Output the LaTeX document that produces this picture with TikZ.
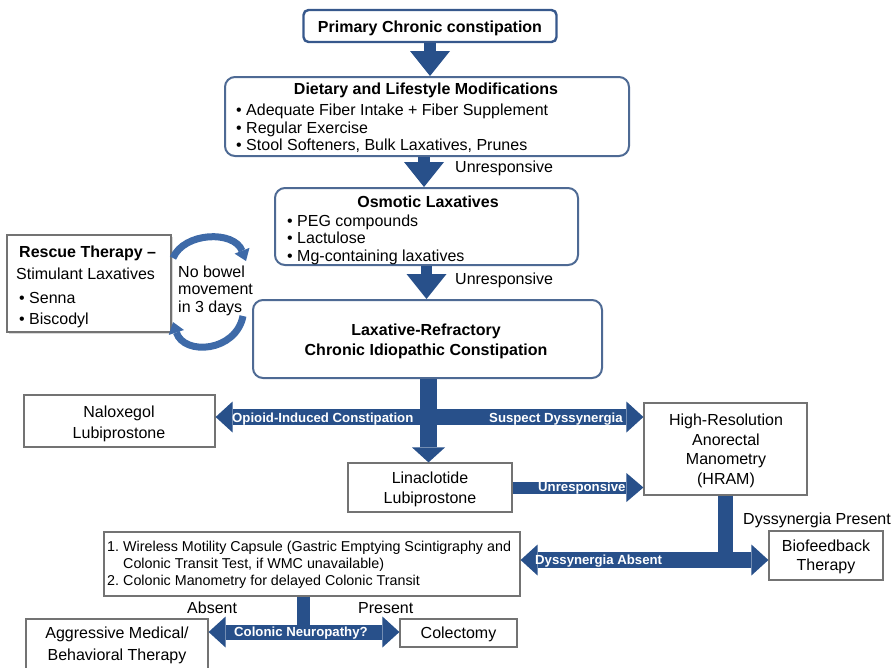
\documentclass[tikz,border=0pt]{standalone}
\usepackage{fontspec}
\setmainfont{Liberation Sans}
\usetikzlibrary{arrows.meta,shadows}
\definecolor{ablue}{RGB}{40,80,138}
\definecolor{bblue}{RGB}{78,106,148}
\definecolor{pblue}{RGB}{55,88,140}
\definecolor{cblue}{RGB}{62,106,168}
\definecolor{gbox}{RGB}{115,115,115}
\newcommand\fr{\fontsize{16}{19}\selectfont}
\newcommand\fb{\fontsize{16}{19}\selectfont\bfseries}
\newcommand\fw{\fontsize{13.2}{15}\selectfont\bfseries}
\newcommand\fsm{\fontsize{14.3}{17}\selectfont}
\begin{document}
\begin{tikzpicture}[x=1pt,y=-1pt,
  rbox/.style={draw=bblue, line width=2pt, rounded corners=10pt, fill=white, inner sep=0pt},
  pbox/.style={draw=pblue, line width=2.4pt, rounded corners=5pt, fill=white, inner sep=0pt},
  sbox/.style={draw=gbox, line width=1.2pt, fill=white, inner sep=0pt},
  t/.style={inner sep=0pt, anchor=base west, font=\fr},
  tb/.style={inner sep=0pt, anchor=base west, font=\fb},
  tc/.style={inner sep=0pt, anchor=base, font=\fr},
  tcb/.style={inner sep=0pt, anchor=base, font=\fb},
  ts/.style={inner sep=0pt, anchor=base west, font=\fsm},
  wl/.style={inner sep=0pt, anchor=base west, font=\fw, text=white},
  shaft/.style={draw=ablue, line width=#1},
  varr/.style={draw=ablue, line width=12pt, -{Triangle[width=40pt,length=25pt,line width=0pt]}},
  jarr/.style={draw=ablue, line width=17pt, -{Triangle[width=33pt,length=15pt,line width=0pt]}},
  harr/.style={draw=ablue, line width=12pt, -{Triangle[width=29pt,length=17pt,line width=0pt]}},
  darr/.style={draw=ablue, line width=#1, {Triangle[width=31pt,length=17pt,line width=0pt]}-{Triangle[width=31pt,length=17pt,line width=0pt]}},
  carc/.style={draw=cblue, line width=7pt, -{Triangle[width=16pt,length=11pt,line width=0pt]}}
]
\useasboundingbox (0,0) rectangle (896,667);

% boxes
\node[pbox, minimum width=253pt, minimum height=32pt] (prim) at (430,26) {};
\node[rbox, minimum width=404pt, minimum height=79pt] (diet) at (427,116.5) {};
\node[rbox, minimum width=303pt, minimum height=77pt] (osm) at (426.5,226.5) {};
\node[rbox, minimum width=349pt, minimum height=78pt] (lax) at (427.5,339) {};
\node[sbox, minimum width=164pt, minimum height=97pt,
      drop shadow={shadow xshift=2pt, shadow yshift=-2pt, opacity=0.3}] (resc) at (89,283.5) {};
\node[sbox, minimum width=191pt, minimum height=52pt] (nal) at (119.5,421) {};
\node[sbox, minimum width=164pt, minimum height=49pt] (lin) at (430,487.5) {};
\node[sbox, minimum width=163pt, minimum height=92pt] (hram) at (725.5,449) {};
\node[sbox, minimum width=114pt, minimum height=49pt] (bio) at (826,555.5) {};
\node[sbox, minimum width=416pt, minimum height=64pt] (wmc) at (312,564) {};
\node[sbox, minimum width=117pt, minimum height=28pt] (col) at (458.5,633) {};
\node[sbox, minimum width=182pt, minimum height=62pt] (agg) at (117,650) {};

% texts in boxes
\node[tcb] (primt) at (430,32) {Primary Chronic constipation};
\node[tcb] (dietT) at (426,94) {Dietary and Lifestyle Modifications};
\node[t] (diet1) at (236,115) {• Adequate Fiber Intake + Fiber Supplement};
\node[t] (diet2) at (236,133) {• Regular Exercise};
\node[t] (diet3) at (236,150) {• Stool Softeners, Bulk Laxatives, Prunes};
\node[tcb] (osmT) at (428,207) {Osmotic Laxatives};
\node[t] (osm1) at (287,226) {• PEG compounds};
\node[t] (osm2) at (287,243) {• Lactulose};
\node[t] (osm3) at (287,261) {• Mg-containing laxatives};
\node[tcb] (lax1) at (426,335) {Laxative-Refractory};
\node[tcb] (lax2) at (426,355) {Chronic Idiopathic Constipation};
\node[tb] (resc1) at (19,257) {Rescue Therapy –};
\node[t] (resc2) at (16,279) {Stimulant Laxatives};
\node[t] (resc3) at (19,303) {• Senna};
\node[t] (resc4) at (19,324) {• Biscodyl};
\node[tc] (nal1) at (119,417) {Naloxegol};
\node[tc] (nal2) at (119,438) {Lubiprostone};
\node[tc] (lin1) at (430,483) {Linaclotide};
\node[tc] (lin2) at (430,503) {Lubiprostone};
\node[tc] (hram1) at (726,425) {High-Resolution};
\node[tc] (hram2) at (726,445) {Anorectal};
\node[tc] (hram3) at (726,464) {Manometry};
\node[tc] (hram4) at (726,484) {(HRAM)};
\node[tc] (bio1) at (826,551) {Biofeedback};
\node[tc] (bio2) at (826,570) {Therapy};
\node[ts] (wmc1n) at (107,551) {1.};
\node[ts] (wmc1) at (123,551) {Wireless Motility Capsule (Gastric Emptying Scintigraphy and};
\node[ts] (wmc1b) at (123,568) {Colonic Transit Test, if WMC unavailable)};
\node[ts] (wmc2n) at (107,585) {2.};
\node[ts] (wmc2) at (123,585) {Colonic Manometry for delayed Colonic Transit};
\node[tc] (col1) at (458.5,638) {Colectomy};
\node[tc] (agg1) at (117,638) {Aggressive Medical/};
\node[tc] (agg2) at (117,660) {Behavioral Therapy};

% vertical block arrows
\draw[varr] (prim.south) -- (prim.south |- diet.north);
\draw[varr] ([xshift=-3pt]diet.south) -- ([xshift=-3pt]diet.south |- osm.north);
\draw[varr,line width=11pt] (osm.south) -- (osm.south |- lax.north);
\node[t] (unr1) at (455,172) {Unresponsive};
\node[t] (unr2) at (455,284) {Unresponsive};

% junction under lax
\coordinate (b1) at (430,417);
\draw[darr=16pt] (nal.east |- b1) -- (hram.west |- b1);
\draw[jarr] ([xshift=1pt]lax.south) -- ([xshift=1pt]lax.south |- lin.north);
\node[wl] (oic) at (232,422) {Opioid-Induced Constipation};
\node[wl] (sd) at (489,422) {Suspect Dyssynergia};

% linaclotide -> hram
\draw[harr] (lin.east) -- (hram.west |- lin.east);
\node[wl] (unr3) at (538,491) {Unresponsive};

% hram -> biofeedback / wmc
\coordinate (b2) at (726,560);
\draw[shaft=15pt] (hram.south) -- (hram.south |- b2);
\draw[darr=16pt] (wmc.east |- b2) -- (bio.west |- b2);
\node[wl] (da) at (535,564) {Dyssynergia Absent};
\node[t] (dp) at (743,524) {Dyssynergia Present};

% colonic neuropathy
\coordinate (b3) at (303.5,632);
\draw[shaft=13pt] (b3 |- wmc.south) -- (b3);
\draw[darr=15pt] (agg.east |- b3) -- (col.west |- b3);
\node[wl] (cn) at (234,636) {Colonic Neuropathy?};
\node[t] (abs) at (187,613) {Absent};
\node[t] (pres) at (358,613) {Present};

% rescue loop
\coordinate (ca1) at (173,258);
\coordinate (ca2) at (246,261);
\coordinate (cb1) at (243,316);
\coordinate (cb2) at (173,322);
\draw[carc] (ca1) .. controls (184,232) and (234,230) .. (ca2);
\draw[carc] (cb1) .. controls (236,352) and (184,356) .. (cb2);
\node[t] (nb1) at (178,277) {No bowel};
\node[t] (nb2) at (178,294) {movement};
\node[t] (nb3) at (178,312) {in 3 days};
\end{tikzpicture}
\end{document}
